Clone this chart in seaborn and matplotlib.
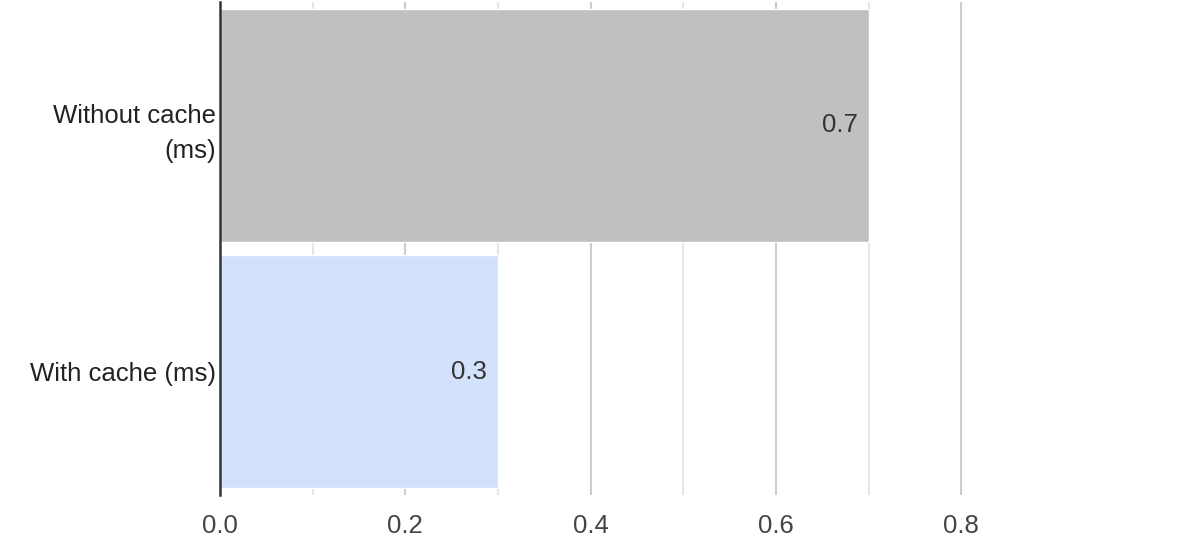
import pandas as pd
import matplotlib.pyplot as plt
import seaborn as sns

categories = ['Without cache\n(ms)', 'With cache (ms)']
values = [0.7, 0.3]
bar_colors = ['#c0c0c0', '#d3e1fb']

df = pd.DataFrame({'label': categories, 'ms': values})

sns.set_style('white')
plt.rcParams['font.family'] = ['Liberation Sans', 'DejaVu Sans']

fig = plt.figure(figsize=(11.82, 5.52), dpi=100)
ax = fig.add_axes([220 / 1182, 57 / 552, (1054 - 220) / 1182, 493 / 552])

sns.barplot(data=df, x='ms', y='label', hue='label', palette=bar_colors,
            orient='h', width=0.947, legend=False, ax=ax, saturation=1)

ax.set_xlim(0, 0.9)
ax.set_ylim(1.5, -0.5)
ax.set_xticks([0.0, 0.2, 0.4, 0.6, 0.8])
ax.set_xticks([0.1, 0.3, 0.5, 0.7], minor=True)
ax.set_xticklabels(['0.0', '0.2', '0.4', '0.6', '0.8'])
ax.grid(axis='x', which='major', color='#cccccc', linewidth=1.5)
ax.grid(axis='x', which='minor', color='#e6e6e6', linewidth=1.5)
ax.set_axisbelow(True)

for s in ['top', 'right', 'bottom']:
    ax.spines[s].set_visible(False)
ax.spines['left'].set_color('#333333')
ax.spines['left'].set_linewidth(1.8)
ax.spines['left'].set_zorder(5)

ax.tick_params(axis='x', which='both', length=0, pad=14, labelsize=18.5, labelcolor='#444444')
ax.tick_params(axis='y', length=0, pad=3, labelsize=18.5, labelcolor='#222222')
for t in ax.get_yticklabels():
    t.set_linespacing(1.6)
ax.set_xlabel('')
ax.set_ylabel('')

for i, v in enumerate(values):
    ax.annotate(f'{v:.1f}', xy=(v, i), xytext=(-8, 0), textcoords='offset points',
                ha='right', va='center', fontsize=18.5, color='#333333')

fig.savefig('out.png', dpi=100)
